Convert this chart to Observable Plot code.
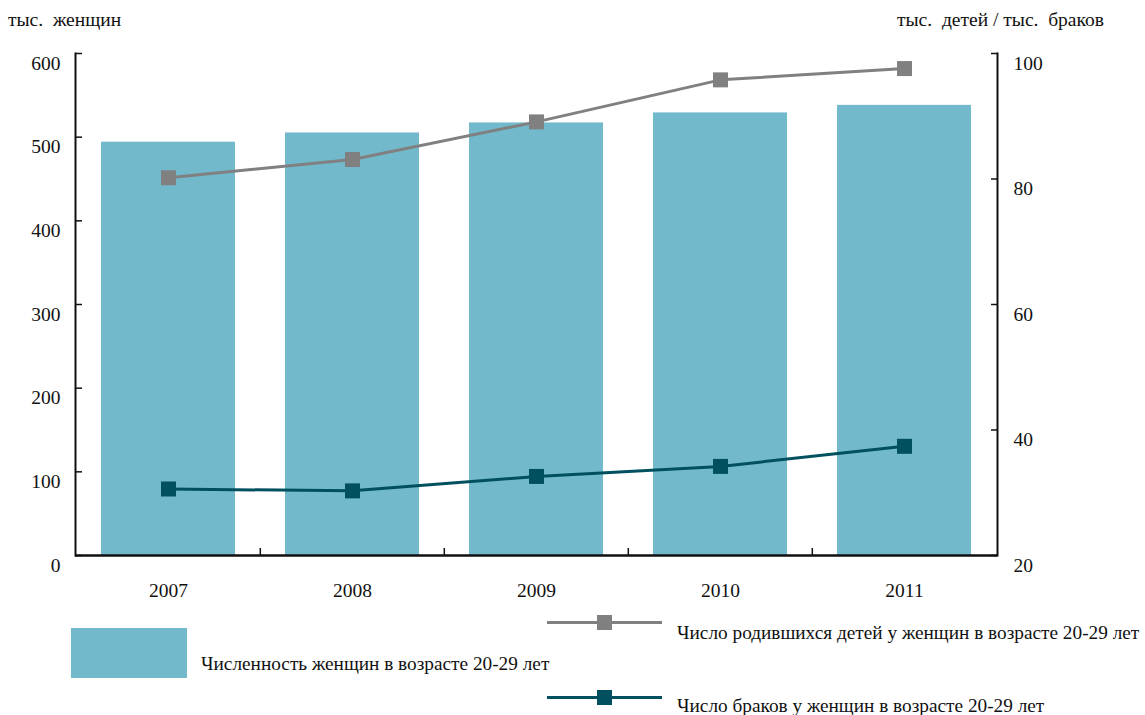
<!DOCTYPE html>
<html>
<head>
<meta charset="utf-8">
<script src="https://cdn.jsdelivr.net/npm/d3@7"></script>
<script src="https://cdn.jsdelivr.net/npm/@observablehq/plot@0.6"></script>
<style>
  body { margin: 0; background: #fff; }
  #wrap { position: relative; width: 1145px; height: 715px; font-family: "Liberation Serif", "Times New Roman", serif; font-size: 19.5px; color: #111; }
  #chart { position: absolute; left: 0; top: 0; }
  .t { position: absolute; white-space: pre; line-height: 1; }
  .lg { font-size: 19.3px; }
  .sw { position: absolute; }
</style>
</head>
<body>
<div id="wrap">
  <div id="chart"></div>
  <div class="t" style="left:8px; top:10px;">тыс.  женщин</div>
  <div class="t" style="left:897px; top:10px;">тыс.  детей / тыс.  браков</div>

  <div class="sw" style="left:71px; top:628px; width:116px; height:50px; background:#72B9CB;"></div>
  <div class="t lg" style="left:201px; top:654px;">Численность женщин в возрасте 20-29 лет</div>

  <div class="sw" style="left:547px; top:620.5px; width:115px; height:3px; background:#808080;"></div>
  <div class="sw" style="left:597px; top:614.5px; width:15px; height:15px; background:#808080;"></div>
  <div class="t lg" style="left:677px; top:623px;">Число родившихся детей у женщин в возрасте 20-29 лет</div>

  <div class="sw" style="left:547px; top:695.5px; width:115px; height:3px; background:#00505F;"></div>
  <div class="sw" style="left:597px; top:689.5px; width:15px; height:15px; background:#00505F;"></div>
  <div class="t lg" style="left:677px; top:696px;">Число браков у женщин в возрасте 20-29 лет</div>
</div>
<script>
// ---- data ----
const years = ["2007", "2008", "2009", "2010", "2011"];
const women = [494, 505, 517, 529, 538];          // тыс. женщин (left axis)
const births = [80.2, 83.1, 89.1, 95.8, 97.6];     // тыс. детей (right axis)
const marriages = [30.6, 30.3, 32.6, 34.2, 37.4];  // тыс. браков (right axis)
const leftTicks = [0, 100, 200, 300, 400, 500, 600];
const rightTicks = [20, 40, 60, 80, 100];

// right axis [20,100] mapped onto left axis [0,600]
const toLeft = v => (v - 20) * 600 / 80;
const fromLeft = v => Math.round(v * 80 / 600 + 20);

const data = years.map((year, i) => ({year, women: women[i], births: births[i], marriages: marriages[i]}));

const W = 1145, mL = 75, mR = 148;
const step = (W - mL - mR) / years.length;

const chart = Plot.plot({
  width: W,
  height: 600,
  marginLeft: mL,
  marginRight: mR,
  marginTop: 53,
  marginBottom: 45,
  style: {fontFamily: '"Liberation Serif", "Times New Roman", serif', fontSize: "19.5px", color: "#111", background: "#fff"},
  x: {domain: years, paddingInner: 0.27, paddingOuter: 0.135, axis: null},
  y: {domain: [0, 600], axis: null},
  marks: [
    Plot.barY(data, {x: "year", y: "women", fill: "#72B9CB"}),
    Plot.line(data, {x: "year", y: d => toLeft(d.births), stroke: "#808080", strokeWidth: 3}),
    Plot.dot(data, {x: "year", y: d => toLeft(d.births), symbol: "square", r: 8.46, fill: "#808080", stroke: "none"}),
    Plot.line(data, {x: "year", y: d => toLeft(d.marriages), stroke: "#00505F", strokeWidth: 3}),
    Plot.dot(data, {x: "year", y: d => toLeft(d.marriages), symbol: "square", r: 8.46, fill: "#00505F", stroke: "none"}),
    // axis lines
    Plot.frame({anchor: "left", stroke: "#111", strokeWidth: 2}),
    Plot.frame({anchor: "right", stroke: "#111", strokeWidth: 2}),
    Plot.ruleY([0], {stroke: "#111", strokeWidth: 2.5}),
    // left axis: ticks (inward) then labels
    Plot.axisY({anchor: "left", ticks: leftTicks, tickSize: 7, dx: 7, strokeWidth: 1.5, stroke: "#111", fill: "none", label: null}),
    Plot.axisY({anchor: "left", ticks: leftTicks, tickSize: 0, tickPadding: 15, dy: 10, label: null, fill: "#111"}),
    // right axis
    Plot.axisY({anchor: "right", ticks: rightTicks.map(toLeft), tickSize: 7, dx: -7, strokeWidth: 1.5, stroke: "#111", fill: "none", label: null}),
    Plot.axisY({anchor: "right", ticks: rightTicks.map(toLeft), tickFormat: fromLeft, tickSize: 0, tickPadding: 16, dy: 10, label: null, fill: "#111"}),
    // x axis
    Plot.axisX({anchor: "bottom", ticks: years, tickSize: 0, tickPadding: 28, label: null, fill: "#111"}),
    Plot.axisX({anchor: "bottom", ticks: years.slice(1), tickSize: 7, dx: -step / 2, dy: -7, strokeWidth: 1.5, stroke: "#111", fill: "none", label: null})
  ]
});
document.getElementById("chart").appendChild(chart);
</script>
</body>
</html>
